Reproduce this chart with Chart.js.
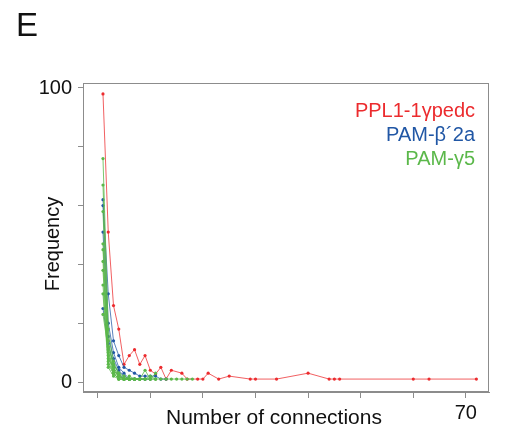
<!DOCTYPE html>
<html>
<head>
<meta charset="utf-8">
<script src="https://cdn.jsdelivr.net/npm/chart.js@4"></script>
<style>
  html, body { margin: 0; padding: 0; background: #fff; }
  #wrap { width: 505px; height: 435px; position: relative; }
</style>
</head>
<body>
<div id="wrap"><canvas id="freqChart"></canvas></div>
<script>
/* =========================================================
   DATA
========================================================= */
const xTicks = [0, 10, 20, 30, 40, 50, 60, 70];
const yTicks = [0, 20, 40, 60, 80, 100];

// PPL1-1γpedc (red) - sparse x values
const redX = [1, 2, 3, 4, 5, 6, 7, 8, 9, 10, 11, 12, 13, 14, 16, 17, 19, 20, 21, 23, 25, 29, 30, 34, 40, 44, 45, 46, 60, 63, 72];
const redY = [98, 51, 26, 18, 6, 9, 11, 6, 9, 4, 2.7, 5, 1, 4, 3, 1, 1, 1, 3, 1, 2, 1, 1, 1, 3, 1, 1, 1, 1, 1, 1];

// PAM-β´2a (blue) - values start at x = 1
const blue1 = [62, 30, 14, 9, 5, 4, 3, 2, 2, 2, 2, 1, 1];
const blue2 = [60, 20, 10, 5, 3, 1, 1, 1, 1];
const blue3 = [51, 15.5, 8, 4, 2, 1, 1, 1, 1, 1];
const blue4 = [25, 13, 6, 3, 1, 1, 1];

// PAM-γ5 (green) - values start at x = 1
const green1 = [76, 18, 7, 3, 1, 1, 1, 1];
const green2 = [67, 14, 5, 2, 1, 1];
const green3 = [58, 12, 6, 3, 2, 1, 1, 1, 4, 1, 3];
const green4 = [47, 10, 4, 2, 1, 1, 1, 1, 1, 1, 1, 1, 1, 1, 1, 1, 1, 1];
const green5 = [45, 9, 3, 1, 1];
const green6 = [41, 8, 5, 2, 1, 2, 1, 1];
const green7 = [38, 7, 3, 2, 1, 1, 1, 1, 1, 1, 1];
const green8 = [33, 6, 3, 1, 1];
const green9 = [30, 5, 2, 1, 1, 1, 1, 1, 1, 2, 1];
const green10 = [23, 11, 4, 2, 1, 1];

const legendLabels = ["PPL1-1γpedc", "PAM-β´2a", "PAM-γ5"];

/* =========================================================
   STYLE
========================================================= */
const RED = "#ec2b2e";
const BLUE = "#2157a5";
const GREEN = "#5bb84a";
const LINE = {
  [RED]: "rgba(236,43,46,0.75)",
  [BLUE]: "rgba(33,87,165,0.75)",
  [GREEN]: "rgba(91,184,74,0.8)"
};
const FRAME = "#8c8c8c";
const FONT = "'Liberation Sans', Arial, sans-serif";

function toPoints(ys, xs) {
  return ys.map((y, i) => ({ x: xs ? xs[i] : i + 1, y }));
}

function series(ys, color, xs) {
  return {
    data: toPoints(ys, xs),
    borderColor: LINE[color],
    backgroundColor: color,
    borderWidth: 1,
    pointRadius: 1.6,
    pointHoverRadius: 1.6,
    pointBorderWidth: 0,
    tension: 0
  };
}

/* =========================================================
   EXTRA DRAWING (frame, titles, legend)
========================================================= */
const decor = {
  id: "decor",
  beforeDatasetsDraw(chart) {
    const { ctx, chartArea: a } = chart;
    ctx.save();
    ctx.strokeStyle = FRAME;
    ctx.lineWidth = 1;
    ctx.strokeRect(a.left + 0.5, a.top + 0.5, a.right - a.left - 1, a.bottom - a.top - 1);
    ctx.restore();
  },
  afterDraw(chart) {
    const ctx = chart.ctx;
    ctx.save();
    ctx.fillStyle = "#111";
    ctx.textBaseline = "alphabetic";

    ctx.font = `33px ${FONT}`;
    ctx.textAlign = "left";
    ctx.fillText("E", 16, 36);

    ctx.font = `21px ${FONT}`;
    ctx.textAlign = "left";
    ctx.fillText("Number of connections", 166, 424);

    ctx.save();
    ctx.translate(59, 244);
    ctx.rotate(-Math.PI / 2);
    ctx.textAlign = "center";
    ctx.font = `20px ${FONT}`;
    ctx.fillText("Frequency", 0, 0);
    ctx.restore();

    ctx.font = `20px ${FONT}`;
    ctx.textAlign = "right";
    [RED, BLUE, GREEN].forEach((c, i) => {
      ctx.fillStyle = c;
      ctx.fillText(legendLabels[i], 475, 117 + i * 24);
    });
    ctx.restore();
  }
};

/* =========================================================
   CHART
========================================================= */
new Chart(document.getElementById("freqChart"), {
  type: "line",
  data: {
    datasets: [
      series(green1, GREEN), series(green2, GREEN), series(green3, GREEN),
      series(green4, GREEN), series(green5, GREEN), series(green6, GREEN),
      series(green7, GREEN), series(green8, GREEN), series(green9, GREEN),
      series(green10, GREEN),
      series(blue1, BLUE), series(blue2, BLUE), series(blue3, BLUE), series(blue4, BLUE),
      series(redY, RED, redX)
    ]
  },
  options: {
    responsive: true,
    maintainAspectRatio: false,
    animation: false,
    events: [],
    layout: { padding: { left: 0, top: 83, right: 16, bottom: 0 } },
    plugins: { legend: { display: false }, tooltip: { enabled: false } },
    scales: {
      x: {
        type: "linear",
        min: -2.8,
        max: 74.4,
        afterBuildTicks: s => { s.ticks = xTicks.map(v => ({ value: v })); },
        afterFit: s => { s.height = 43; },
        grid: { drawOnChartArea: false, drawTicks: true, tickLength: 6, color: FRAME },
        border: { display: true, color: FRAME },
        ticks: {
          padding: 3,
          maxRotation: 0,
          autoSkip: false,
          color: "#111",
          font: { family: FONT, size: 20 },
          callback: v => (v === 70 ? "70" : "")
        }
      },
      y: {
        type: "linear",
        min: -3.4,
        max: 101.7,
        afterBuildTicks: s => { s.ticks = yTicks.map(v => ({ value: v })); },
        afterFit: s => { s.width = 83; },
        grid: { drawOnChartArea: false, drawTicks: true, tickLength: 5, color: FRAME },
        border: { display: true, color: FRAME },
        ticks: {
          padding: 6,
          autoSkip: false,
          color: "#111",
          font: { family: FONT, size: 20 },
          callback: v => (v === 0 || v === 100 ? String(v) : "")
        }
      }
    }
  },
  plugins: [decor]
});
</script>
</body>
</html>
